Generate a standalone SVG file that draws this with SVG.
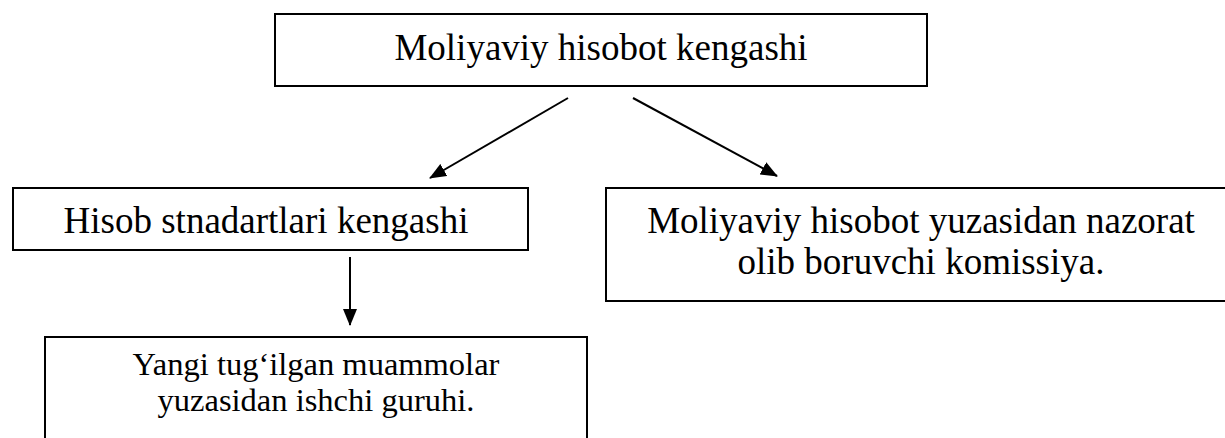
<svg xmlns="http://www.w3.org/2000/svg" width="1225" height="438" viewBox="0 0 1225 438">
<style>
.box{fill:#fff;stroke:#000;stroke-width:2}
.t{font-family:"Liberation Serif","Times New Roman",serif;font-size:37px;fill:#000;text-anchor:middle}
.s{font-size:32.5px}
.c{stroke:#000;stroke-width:2;fill:none}
</style>
<defs>
<marker id="ah" markerWidth="17" markerHeight="14" refX="16" refY="7" orient="auto" markerUnits="userSpaceOnUse" viewBox="0 0 17 14">
<path d="M0,0 L17,7 L0,14 z" fill="#000"/>
</marker>
</defs>
<rect width="1225" height="438" fill="#fff"/>
<g id="n1">
<rect class="box" x="275" y="14" width="652" height="72"/>
<text class="t" x="601" y="60">Moliyaviy hisobot kengashi</text>
</g>
<g id="n2">
<rect class="box" x="13" y="188" width="515" height="62"/>
<text class="t" x="266" y="233">Hisob stnadartlari kengashi</text>
</g>
<g id="n3">
<rect class="box" x="606" y="188" width="630" height="113"/>
<text class="t" x="921" y="233">Moliyaviy hisobot yuzasidan nazorat</text>
<text class="t" x="921" y="274">olib boruvchi komissiya.</text>
</g>
<g id="n4">
<rect class="box" x="45" y="337" width="542" height="120"/>
<text class="t s" x="316" y="375">Yangi tug‘ilgan muammolar</text>
<text class="t s" x="316" y="411">yuzasidan ishchi guruhi.</text>
</g>
<g id="connectors">
<line class="c" x1="568" y1="98" x2="430" y2="178" marker-end="url(#ah)"/>
<line class="c" x1="633" y1="98" x2="777" y2="176" marker-end="url(#ah)"/>
<line class="c" x1="350" y1="257" x2="350" y2="325" marker-end="url(#ah)"/>
</g>
</svg>
